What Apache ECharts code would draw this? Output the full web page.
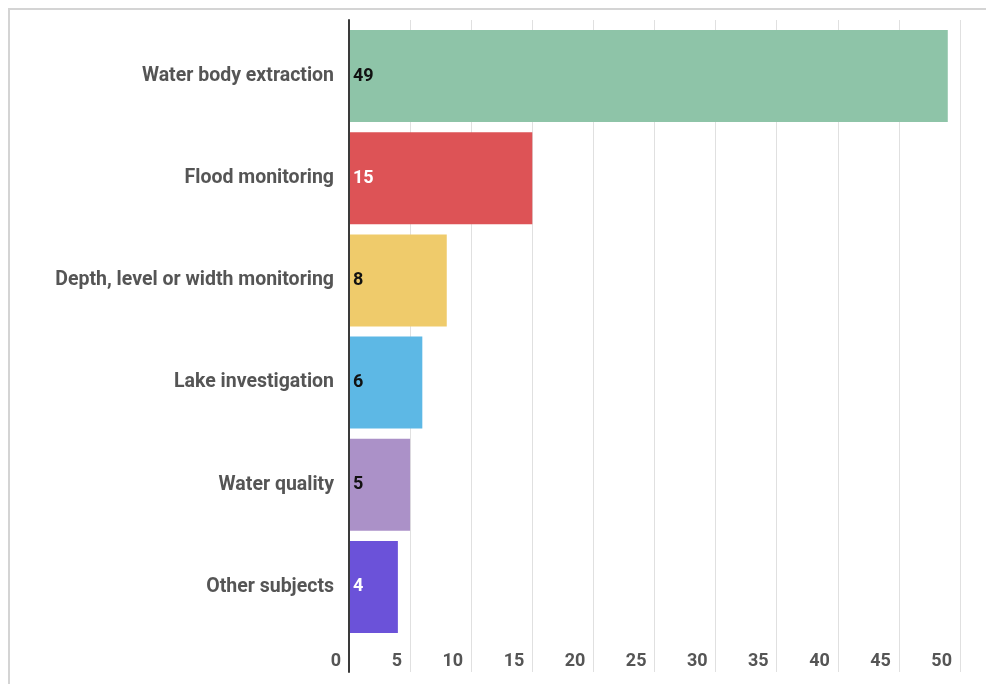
<!DOCTYPE html>
<html>
<head>
<meta charset="utf-8">
<script src="https://cdn.jsdelivr.net/npm/echarts@6/dist/echarts.min.js"></script>
<style>
  html, body { margin: 0; padding: 0; background: #fff; }
  #frame { position: absolute; left: 8px; top: 8px; width: 986px; height: 684px;
           border-left: 2px solid #d4d4d4; border-top: 2px solid #d4d4d4; box-sizing: border-box; }
  #chart { position: absolute; left: 0; top: 0; width: 986px; height: 684px; }
</style>
</head>
<body>
<div id="frame"></div>
<div id="chart"></div>
<script>
// Research subjects and number of studies per subject
const categories = [
  'Water body extraction',
  'Flood monitoring',
  'Depth, level or width monitoring',
  'Lake investigation',
  'Water quality',
  'Other subjects'
];
const counts = [49, 15, 8, 6, 5, 4];
const barColors = ['#8ec4a8', '#dd5356', '#efcb6b', '#5db8e5', '#ab91c8', '#6b52d9'];
const labelColors = ['#111111', '#ffffff', '#111111', '#111111', '#111111', '#ffffff'];
const axisMin = 0, axisMax = 50, axisStep = 5;

const chart = echarts.init(document.getElementById('chart'), null, { renderer: 'canvas' });

const font = 'Roboto, "Noto Sans", sans-serif';

chart.setOption({
  animation: false,
  grid: [
    // frame grid: gridlines, tick labels and the baseline
    { left: 349, right: 26, top: 20, bottom: 12 },
    // bar grid
    { left: 349, right: 26, top: 25, bottom: 46 }
  ],
  xAxis: [
    {
      gridIndex: 0, type: 'value', min: axisMin, max: axisMax, interval: axisStep,
      axisLine: { show: false }, axisTick: { show: false },
      splitLine: { show: true, lineStyle: { color: '#e0e0e0', width: 1 } },
      axisLabel: {
        inside: true, margin: 2, align: 'right', padding: [0, 8, 0, 0],
        color: '#555', fontSize: 18, fontWeight: 'bold', fontFamily: font
      }
    },
    { gridIndex: 1, type: 'value', min: axisMin, max: axisMax, show: false }
  ],
  yAxis: [
    {
      gridIndex: 0, type: 'value', z: 10,
      axisLine: { show: true, lineStyle: { color: '#3a3a3a', width: 2 } },
      axisTick: { show: false }, axisLabel: { show: false }, splitLine: { show: false }
    },
    {
      gridIndex: 1, type: 'category', inverse: true, data: categories,
      axisLine: { show: false }, axisTick: { show: false },
      axisLabel: { margin: 15, color: '#555', fontSize: 19.5, fontWeight: 'bold', fontFamily: font }
    }
  ],
  series: [{
    type: 'bar',
    xAxisIndex: 1, yAxisIndex: 1,
    barCategoryGap: '10%',
    data: counts.map((v, i) => ({
      value: v,
      itemStyle: { color: barColors[i] },
      label: { color: labelColors[i] }
    })),
    label: {
      show: true, position: 'insideLeft', distance: 4,
      fontSize: 18, fontWeight: 'bold', fontFamily: font
    }
  }]
});
</script>
</body>
</html>
